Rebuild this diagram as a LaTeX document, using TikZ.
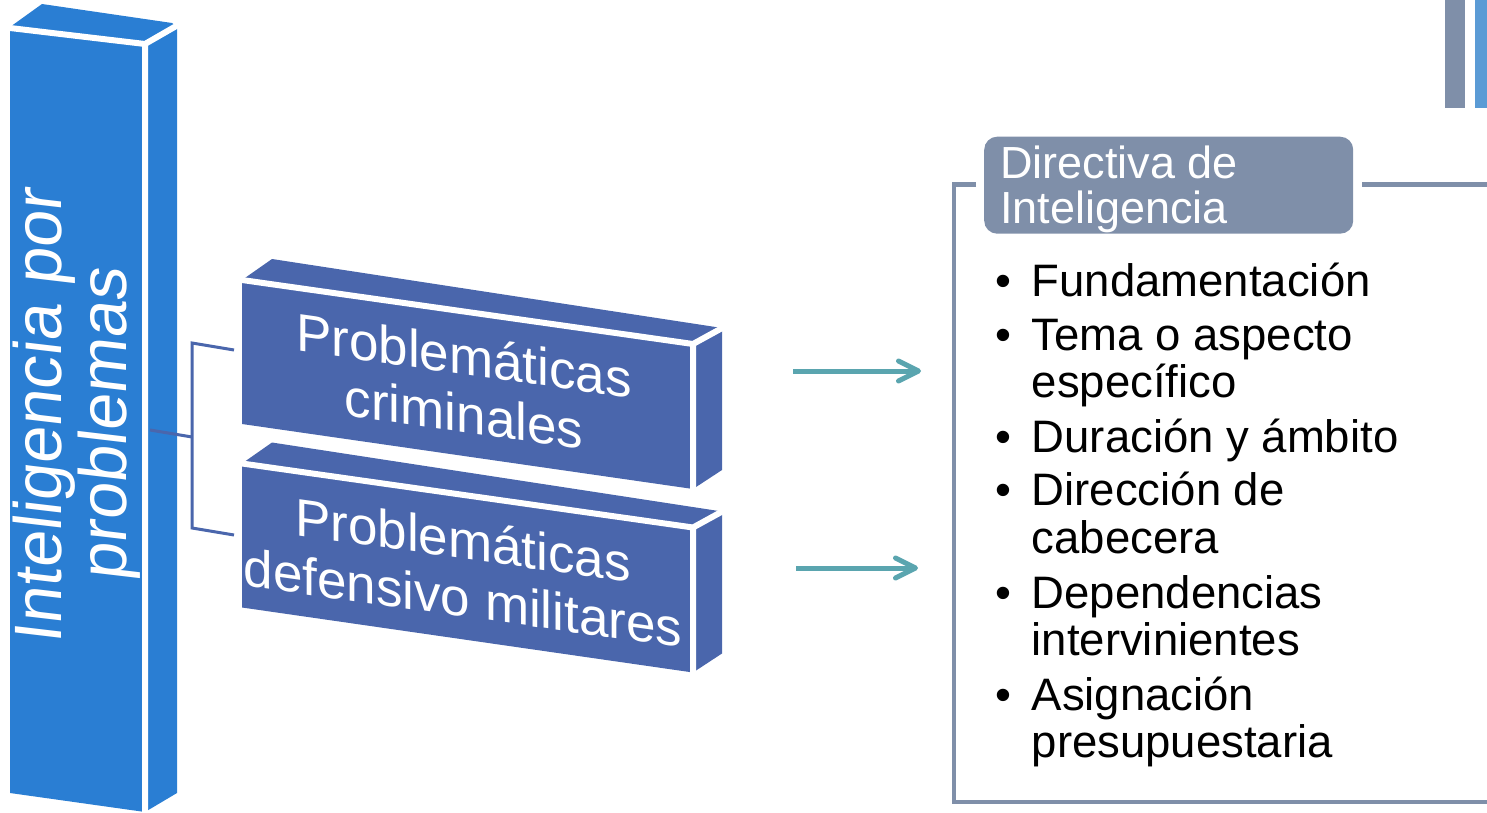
\documentclass[tikz,border=0pt]{standalone}
\usepackage{fontspec}
\setmainfont{Liberation Sans}
\usetikzlibrary{arrows.meta}
\definecolor{barblue}{RGB}{42,126,211}
\definecolor{blockblue}{RGB}{74,102,172}
\definecolor{slate}{RGB}{127,143,169}
\definecolor{lightblue}{RGB}{91,155,213}
\definecolor{arrowteal}{RGB}{90,165,175}
\tikzset{
  edgeline/.style={white, line width=6},
  bracketline/.style={blockblue, line width=3},
  flowarrow/.style={arrowteal, line width=5, -{Straight Barb[length=20,width=20,round]}},
  framerule/.style={slate, line width=4.5},
  listtext/.style={anchor=base west, inner sep=0, font=\fontsize{45.5}{47}\selectfont},
  bullettext/.style={anchor=base, inner sep=0, font=\fontsize{45.5}{47}\selectfont},
  titletext/.style={anchor=base west, inner sep=0, text=white, font=\fontsize{45}{45}\selectfont},
  blocktext/.style={transform shape, text=white, align=center, inner sep=0, font=\fontsize{53}{58}\selectfont},
}
\begin{document}
\begin{tikzpicture}[x=1pt,y=-1pt]
\useasboundingbox (0,0) rectangle (1487,813);
% top-right bars
\fill[slate] (1445,0) rectangle (1465,108);
\fill[lightblue] (1475,0) rectangle (1487,108);
% tall bar
\fill[barblue] (10,27) -- (42,4) -- (172,23) -- (177,27) -- (177,793) -- (145,812) -- (10,793) -- cycle;
\draw[edgeline] (10,28) -- (145,44) -- (145,814) (145,44) -- (178,25);
\begin{scope}[shift={(77,419)}, cm={0,1,-1,0.118,(0,0)}]
\node[blocktext, font=\fontsize{67}{65}\selectfont] (main) at (0,0) {Inteligencia por\\problemas};
\end{scope}
% block 1
\fill[blockblue] (242,280) -- (272,259) -- (722,328) -- (722,470) -- (693,489) -- (242,424) -- cycle;
\draw[edgeline] (242,280) -- (693,344) -- (693,491) (693,344) -- (724,327);
\begin{scope}[shift={(464,384)}, yslant=-0.141]
\node[blocktext] (crim) at (0,0) {Problemáticas\\criminales};
\end{scope}
% block 2
\begin{scope}[shift={(0,183.5)}]
\fill[blockblue] (242,280) -- (272,259) -- (722,328) -- (722,470) -- (693,489) -- (242,424) -- cycle;
\draw[edgeline] (242,280) -- (693,344) -- (693,491) (693,344) -- (724,327);
\end{scope}
\begin{scope}[shift={(463,568.5)}, yslant=-0.141]
\node[blocktext] (defm) at (0,0) {Problemáticas\\defensivo militares};
\end{scope}
% bracket
\coordinate (jA) at (150,430);
\coordinate (jB) at (192,437);
\coordinate (jT) at (192,343);
\coordinate (jTe) at (234,350);
\coordinate (jBo) at (192,528);
\coordinate (jBe) at (234,535);
\draw[bracketline] (jA) -- (jB);
\draw[bracketline] (jTe) -- (jT) -- (jBo) -- (jBe);
% arrows
\coordinate (a1s) at (793,371);
\coordinate (a1e) at (921,371);
\coordinate (a2s) at (796,568);
\coordinate (a2e) at (918,568);
\draw[flowarrow] (a1s) -- (a1e);
\draw[flowarrow] (a2s) -- (a2e);
% frame
\coordinate (fL) at (976,184.5);
\coordinate (fC) at (954,184.5);
\coordinate (fBL) at (954,802);
\coordinate (fBR) at (1490,802);
\coordinate (fR) at (1362,184.5);
\coordinate (fRe) at (1490,184.5);
\draw[framerule] (fL) -- (fC) -- (fBL) -- (fBR);
\draw[framerule] (fR) -- (fRe);
\node[fill=slate, rounded corners=13, minimum width=369, minimum height=97, anchor=north west, inner sep=0] (dt) at (984,136.5) {};
\node[titletext] (dt1) at (1000,178.5) {Directiva de};
\node[titletext] (dt2) at (1000,223) {Inteligencia};
% list
\node[bullettext] (b1) at (1003,296) {•};
\node[listtext] (l1) at (1031.5,296) {Fundamentación};
\node[bullettext] (b2) at (1003,350) {•};
\node[listtext] (l2) at (1031.5,350) {Tema o aspecto};
\node[listtext] (l2b) at (1031.5,397) {específico};
\node[bullettext] (b3) at (1003,452) {•};
\node[listtext] (l3) at (1031.5,452) {Duración y ámbito};
\node[bullettext] (b4) at (1003,505) {•};
\node[listtext] (l4) at (1031.5,505) {Dirección de};
\node[listtext] (l4b) at (1031.5,553) {cabecera};
\node[bullettext] (b5) at (1003,608) {•};
\node[listtext] (l5) at (1031.5,608) {Dependencias};
\node[listtext] (l5b) at (1031.5,655) {intervinientes};
\node[bullettext] (b6) at (1003,710) {•};
\node[listtext] (l6) at (1031.5,710) {Asignación};
\node[listtext] (l6b) at (1031.5,757) {presupuestaria};
\end{tikzpicture}
\end{document}
